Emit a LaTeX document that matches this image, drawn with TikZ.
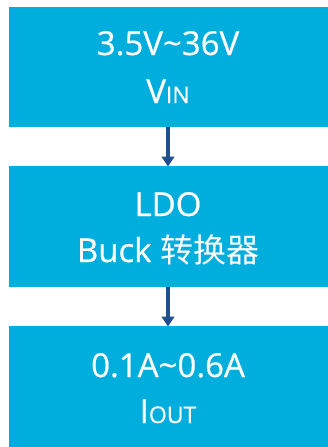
\documentclass[tikz,border=0pt]{standalone}
\usepackage{fontspec}
\setmainfont{Open Sans}[FakeBold=0.6,BoldFont={Open Sans}]
\newfontfamily\cjkfont{Noto Sans CJK SC}
\usetikzlibrary{arrows.meta}
\definecolor{boxblue}{HTML}{00AEDD}
\definecolor{arrowblue}{HTML}{1F4E8C}
\tikzset{
  bluebox/.style={fill=boxblue, draw=none, inner sep=0pt, minimum width=319pt, anchor=north west},
  flowarrow/.style={draw=arrowblue, line width=3.4pt, -{Triangle[length=10pt,width=12.5pt]}, shorten >=-0.5pt},
  maintext/.style={text=white, font=\fontsize{33}{33}\selectfont\bfseries, anchor=base},
}
\newcommand{\subsc}[1]{{\fontsize{23}{23}\selectfont #1}}
\begin{document}
\begin{tikzpicture}[x=1pt,y=-1pt]
\useasboundingbox (0,0) rectangle (328,447);
\fill[white] (0,0) rectangle (328,447);
\node[bluebox, minimum height=120pt] (b1) at (9,7) {};
\node[bluebox, minimum height=121pt] (b2) at (9,166) {};
\node[bluebox, minimum height=121pt] (b3) at (9,326) {};
\node[maintext] (t1) at (168,55) {3.5V\textasciitilde 36V};
\node[maintext] (t2) at (168,103) {V\subsc{IN}};
\node[maintext] (t3) at (168,216) {LDO};
\node[maintext] (t4) at (168,262) {Buck {\cjkfont\mdseries 转换器}};
\node[maintext] (t5) at (168,377) {0.1A\textasciitilde 0.6A};
\node[maintext] (t6) at (168,423) {I\subsc{OUT}};
\draw[flowarrow] (b1.south -| 168,0) -- (b2.north -| 168,0);
\draw[flowarrow] (b2.south -| 168,0) -- (b3.north -| 168,0);
\end{tikzpicture}
\end{document}
